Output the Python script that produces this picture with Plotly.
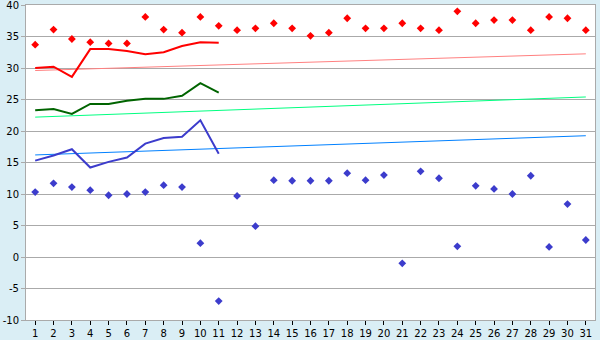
import plotly.graph_objects as go

days = list(range(1, 32))

max_temps = [33.7, 36.1, 34.6, 34.1, 33.9, 33.9, 38.1, 36.1, 35.6, 38.1,
             36.7, 36.0, 36.3, 37.1, 36.3, 35.1, 35.6, 37.9, 36.3, 36.3,
             37.1, 36.3, 36.0, 39.0, 37.1, 37.6, 37.6, 36.0, 38.1, 37.9, 36.0]
min_temps = [10.3, 11.7, 11.1, 10.6, 9.8, 10.0, 10.3, 11.4, 11.1, 2.2,
             -7.0, 9.7, 4.9, 12.2, 12.1, 12.1, 12.1, 13.3, 12.2, 13.0,
             -1.0, 13.6, 12.5, 1.7, 11.3, 10.8, 10.0, 12.9, 1.6, 8.4, 2.7]

line_days = list(range(1, 12))
max_line = [30.0, 30.2, 28.6, 33.0, 33.0, 32.7, 32.2, 32.5, 33.5, 34.1, 34.0]
mean_line = [23.3, 23.5, 22.7, 24.3, 24.3, 24.8, 25.1, 25.1, 25.6, 27.6, 26.1]
min_line = [15.3, 16.1, 17.1, 14.2, 15.1, 15.8, 18.0, 18.9, 19.1, 21.7, 16.4]

trend_days = [1, 31]
max_trend = [29.6, 32.25]
mean_trend = [22.2, 25.4]
min_trend = [16.2, 19.25]

y_ticks = [-10, -5, 0, 5, 10, 15, 20, 25, 30, 35, 40]
y_labels = ["-10", "-5", "0", "5", "10", "15", "20", "25", "30", "35", "40"]

fig = go.Figure()

fig.add_trace(go.Scatter(x=trend_days, y=max_trend, mode="lines",
                         line=dict(color="#FF8080", width=1), hoverinfo="skip"))
fig.add_trace(go.Scatter(x=trend_days, y=mean_trend, mode="lines",
                         line=dict(color="#00FF80", width=1), hoverinfo="skip"))
fig.add_trace(go.Scatter(x=trend_days, y=min_trend, mode="lines",
                         line=dict(color="#0080FF", width=1), hoverinfo="skip"))

fig.add_trace(go.Scatter(x=line_days, y=max_line, mode="lines",
                         line=dict(color="#FF0000", width=2)))
fig.add_trace(go.Scatter(x=line_days, y=mean_line, mode="lines",
                         line=dict(color="#006400", width=2)))
fig.add_trace(go.Scatter(x=line_days, y=min_line, mode="lines",
                         line=dict(color="#3C3CCC", width=2)))

fig.add_trace(go.Scatter(x=days, y=max_temps, mode="markers",
                         marker=dict(symbol="diamond", size=6, color="#FF0000")))
fig.add_trace(go.Scatter(x=days, y=min_temps, mode="markers",
                         marker=dict(symbol="diamond", size=6, color="#3C3CCC")))

fig.update_layout(
    width=600, height=340,
    margin=dict(l=26, r=5, t=5, b=20, autoexpand=False),
    paper_bgcolor="#DAEEF5",
    plot_bgcolor="#FFFFFF",
    showlegend=False,
    font=dict(family="DejaVu Sans", size=10, color="#000000"),
)
fig.update_xaxes(
    range=[0.5, 31.5], tickmode="array", tickvals=days,
    ticktext=[str(d) for d in days],
    ticks="outside", ticklen=4, tickcolor="#000000",
    showgrid=False, zeroline=False, automargin=False,
    showline=True, linecolor="#AAAAAA", linewidth=1, mirror=True,
    ticklabeloverflow="allow",
)
fig.update_yaxes(
    range=[-10, 40], tickmode="array", tickvals=y_ticks, ticktext=y_labels,
    ticks="outside", ticklen=4, tickcolor="#AAAAAA",
    showgrid=True, gridcolor="#AAAAAA", gridwidth=1, zeroline=False,
    showline=True, linecolor="#AAAAAA", linewidth=1, mirror=True,
    automargin=False, ticklabeloverflow="allow",
)

fig.write_html("out.html")
